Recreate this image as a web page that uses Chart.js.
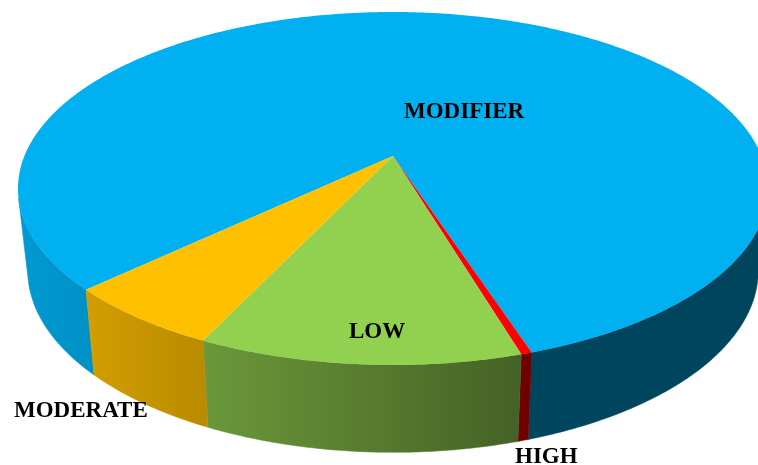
<!DOCTYPE html>
<html>
<head>
<meta charset="utf-8">
<title>Risk classes</title>
<script src="https://cdn.jsdelivr.net/npm/chart.js@4"></script>
<style>
  html, body { margin: 0; padding: 0; background: #fff; }
  #wrap { width: 758px; height: 465px; overflow: hidden; }
  canvas { display: block; }
</style>
</head>
<body>
<div id="wrap"><canvas id="pie" width="758" height="465"></canvas></div>
<script>
// ---------------------------------------------------------------
//  Data
// ---------------------------------------------------------------
const categories = ["MODIFIER", "HIGH", "LOW", "MODERATE"];
const shares     = [82.0, 0.4, 11.7, 5.9];
const sliceColors = ["#00B0F0", "#FF0000", "#92D050", "#FFC000"];

// ---------------------------------------------------------------
//  Look of the tilted disc
// ---------------------------------------------------------------
const START_ANGLE = 226.7;                // degrees, clockwise from 12 o'clock
const APEX = { x: 393, y: 156 };          // where the disc centre lands
const TILT = { a: 368.6, b: 170.5, k: -0.184 };
const WALL_TAPER = 0.974;                 // bottom rim is a bit narrower
const WALL_CUT = 0.24;                    // radians; rim tangent to the wall's edge

// wall brightness along x, as [x, factor] pairs per slice
const wallShades = [
  [[20, 0.875], [95, 0.82], [530, 0.39], [760, 0.39]],
  [[515, 0.46], [535, 0.42]],
  [[203, 0.73], [520, 0.47]],
  [[90, 0.82], [210, 0.72]],
];

const LABEL_FONT = "bold 23px 'Liberation Serif', 'Times New Roman', serif";
const labelSpots = [[404, 118], [515, 463], [349, 338], [14, 417]];

// ---------------------------------------------------------------
//  Projection helpers
// ---------------------------------------------------------------
function topPoint(angle) {
  const u = Math.cos(angle), v = Math.sin(angle);
  const w = 1 + TILT.k * v;
  return { x: APEX.x + TILT.a * u / w, y: APEX.y + TILT.b * v / w };
}

function wallDrop(y) {
  return 82 + 0.03 * (y - 185);
}

function bottomPoint(angle) {
  const p = topPoint(angle);
  return { x: APEX.x + (p.x - APEX.x) * WALL_TAPER, y: p.y + wallDrop(p.y) };
}

function arcSamples(start, end, fn) {
  const steps = Math.max(2, Math.ceil((end - start) / (Math.PI / 360)));
  const pts = [];
  for (let i = 0; i <= steps; i++) pts.push(fn(start + (end - start) * i / steps));
  return pts;
}

function shade(hex, f) {
  const n = parseInt(hex.slice(1), 16);
  const r = Math.round((n >> 16 & 255) * f);
  const g = Math.round((n >> 8 & 255) * f);
  const b = Math.round((n & 255) * f);
  return `rgb(${r},${g},${b})`;
}

function wallFill(ctx, hex, stops) {
  const x0 = stops[0][0], x1 = stops[stops.length - 1][0];
  const grad = ctx.createLinearGradient(x0, 0, x1, 0);
  stops.forEach(([x, f]) => grad.addColorStop((x - x0) / (x1 - x0), shade(hex, f)));
  return grad;
}

function fillPath(ctx, pts, fill) {
  ctx.beginPath();
  pts.forEach((p, i) => (i ? ctx.lineTo(p.x, p.y) : ctx.moveTo(p.x, p.y)));
  ctx.closePath();
  ctx.fillStyle = fill;
  ctx.fill();
}

// only the front of the rim has a wall that can be seen
function fillWall(ctx, arc, fill) {
  ctx.save();
  ctx.strokeStyle = fill;
  ctx.lineWidth = 0.5;
  for (let k = 0; k < 3; k++) {
    const from = Math.max(arc.startAngle, 2 * Math.PI * k + WALL_CUT);
    const to = Math.min(arc.endAngle, 2 * Math.PI * k + Math.PI - WALL_CUT);
    if (to <= from) continue;
    const top = arcSamples(from, to, topPoint);
    const low = arcSamples(from, to, bottomPoint).reverse();
    fillPath(ctx, top.concat(low), fill);
    ctx.stroke();   // hides the seam to the next slice
  }
  ctx.restore();
}

// ---------------------------------------------------------------
//  Plugin: redraws the library's arcs as a tilted disc with a wall
// ---------------------------------------------------------------
const tiltedDisc = {
  id: "tiltedDisc",
  beforeDatasetsDraw(chart) {
    const { ctx } = chart;
    const arcs = chart.getDatasetMeta(0).data;

    arcs.forEach((arc, i) => {
      fillWall(ctx, arc, wallFill(ctx, arc.options.backgroundColor, wallShades[i]));
    });

    arcs.forEach((arc) => {
      const top = arcSamples(arc.startAngle, arc.endAngle, topPoint);
      fillPath(ctx, [APEX].concat(top), arc.options.backgroundColor);
    });

    ctx.save();
    ctx.font = LABEL_FONT;
    ctx.fillStyle = "#000";
    ctx.textBaseline = "alphabetic";
    categories.forEach((name, i) => ctx.fillText(name, labelSpots[i][0], labelSpots[i][1]));
    ctx.restore();
    return false;  // skip the flat arcs
  },
};

new Chart(document.getElementById("pie").getContext("2d"), {
  type: "pie",
  data: {
    labels: categories,
    datasets: [{ data: shares, backgroundColor: sliceColors, borderWidth: 0 }],
  },
  options: {
    responsive: false,
    animation: false,
    rotation: START_ANGLE,
    plugins: { legend: { display: false }, tooltip: { enabled: false } },
    events: [],
  },
  plugins: [tiltedDisc],
});
</script>
</body>
</html>
